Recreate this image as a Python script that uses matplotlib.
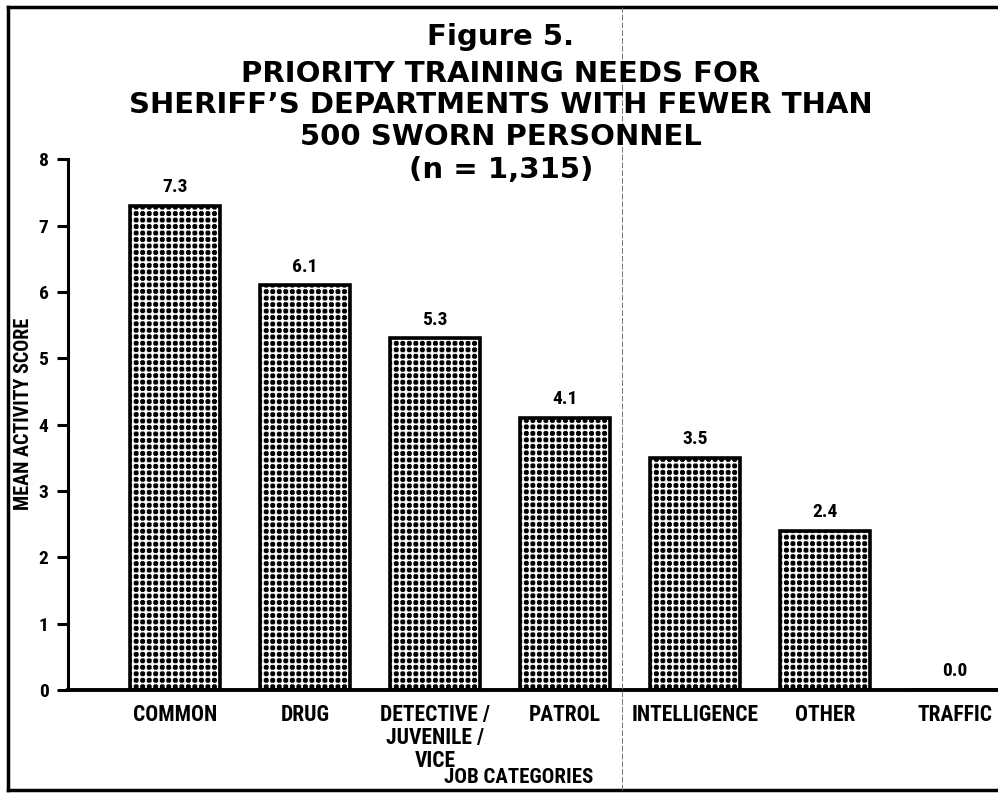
import numpy as np
import matplotlib
matplotlib.use("Agg")
import matplotlib.pyplot as plt
from matplotlib import font_manager
from matplotlib.lines import Line2D

categories = ["COMMON", "DRUG", "DETECTIVE /\nJUVENILE /\nVICE", "PATROL",
              "INTELLIGENCE", "OTHER", "TRAFFIC"]
scores = [7.3, 6.1, 5.3, 4.1, 3.5, 2.4, 0.0]
value_labels = ["7.3", "6.1", "5.3", "4.1", "3.5", "2.4", "0.0"]
y_ticks = [0, 1, 2, 3, 4, 5, 6, 7, 8]

title_lines = ["Figure 5.",
               "PRIORITY TRAINING NEEDS FOR",
               "SHERIFF\u2019S DEPARTMENTS WITH FEWER THAN",
               "500 SWORN PERSONNEL",
               "(n = 1,315)"]


def pick_font(names):
    available = {f.name for f in font_manager.fontManager.ttflist}
    for n in names:
        if n in available:
            return n
    return "DejaVu Sans"


def dot_texture(width_px, height_px, cell=6.5, sub=8, radius=0.4):
    # square grid of black dots, like the screen tone in the scan
    ncols = int(round(width_px / cell))
    nrows = int(round(height_px / cell))
    yy, xx = np.mgrid[0:sub, 0:sub]
    c = (sub - 1) / 2
    disc = ((xx - c) ** 2 + (yy - c) ** 2) <= (radius * sub) ** 2
    tile = np.where(disc, 0.0, 1.0)
    return np.tile(tile, (nrows, ncols))


narrow = pick_font(["Liberation Sans Narrow", "Roboto Condensed", "DejaVu Sans"])
wide = "DejaVu Sans"

fig = plt.figure(figsize=(9.98, 7.96), dpi=100)
ax = fig.add_axes([0.068, 0.133, 0.932, 0.667])

x = np.arange(len(categories))
bars = ax.bar(x, scores, width=0.69, facecolor="none", edgecolor="black",
              linewidth=2.6, zorder=3)

# fill each bar with the dot screen, clipped to the bar outline
tex = dot_texture(930, 531)
for b in bars:
    im = ax.imshow(tex, cmap="gray", vmin=0, vmax=1, aspect="auto",
                   extent=(-0.823, 6.33, 0, 8), interpolation="antialiased",
                   zorder=2)
    im.set_clip_path(b)
ax.set_xlim(-0.823, 6.33)
ax.set_ylim(0, 8)

for xi, v, lab in zip(x, scores, value_labels):
    ax.annotate(lab, (xi, v), xytext=(0, 7), textcoords="offset points",
                ha="center", va="bottom", fontsize=14, fontweight="bold",
                family=narrow)

ax.set_yticks(y_ticks)
ax.set_yticklabels([str(t) for t in y_ticks], fontsize=14, fontweight="bold",
                   family=narrow)
ax.tick_params(axis="y", direction="out", length=8, width=2.2, pad=6)
ax.set_xticks(x)
ax.set_xticklabels(categories, fontsize=15.5, fontweight="bold", family=narrow,
                   linespacing=1.05)
ax.tick_params(axis="x", length=0, pad=10)

for s in ["top", "right"]:
    ax.spines[s].set_visible(False)
ax.spines["left"].set_linewidth(2.2)
ax.spines["bottom"].set_linewidth(2.8)

ax.set_ylabel("MEAN ACTIVITY SCORE", fontsize=14.5, fontweight="bold",
              family=narrow, labelpad=0)
ax.yaxis.set_label_coords(-0.037, 0.52)
fig.text(0.52, 0.023, "JOB CATEGORIES", ha="center", va="center",
         fontsize=15, fontweight="bold", family=narrow)

# title block
title_y = [37, 74, 105, 137, 170]
for line, py in zip(title_lines, title_y):
    fig.text(0.502, 1 - py / 796, line, ha="center", va="center",
             fontsize=21, fontweight="bold", family=wide)

# page frame and crease
fig.add_artist(Line2D([0.008, 1.0], [0.991, 0.991], color="black", lw=2.5,
                      transform=fig.transFigure))
fig.add_artist(Line2D([0.008, 0.008], [0.008, 0.991], color="black", lw=2.5,
                      transform=fig.transFigure))
fig.add_artist(Line2D([0.008, 1.0], [0.008, 0.008], color="black", lw=2.5,
                      transform=fig.transFigure))
fig.add_artist(Line2D([0.623, 0.623], [0.008, 0.991], color="#777777", lw=0.7,
                      ls=(0, (6, 2)), transform=fig.transFigure))

fig.savefig("out.png", dpi=100)
